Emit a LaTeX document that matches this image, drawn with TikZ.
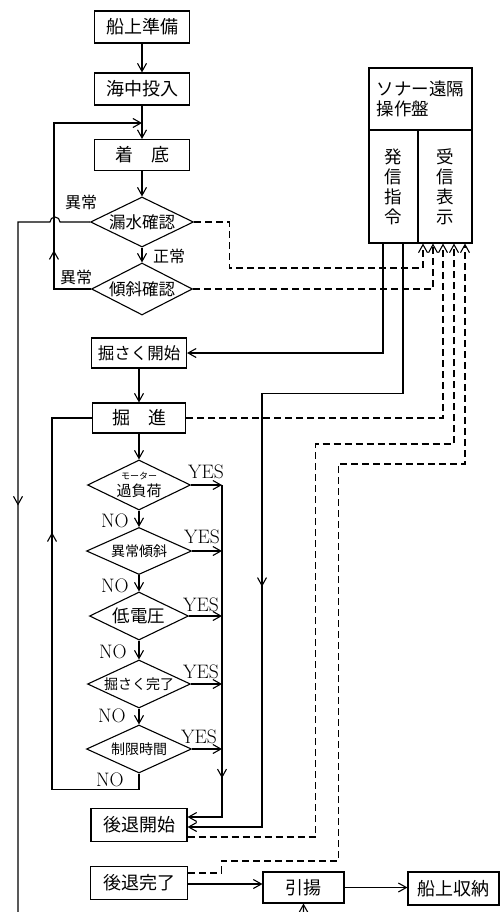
\documentclass[tikz,border=0pt]{standalone}
\usepackage{fontspec}
\newfontfamily\jp{Noto Sans CJK JP}
\usetikzlibrary{arrows.meta,shapes.geometric,decorations.markings}
\begin{document}
\begin{tikzpicture}[x=1pt,y=-1pt,line width=1.1pt,
  >={Straight Barb[length=8pt,width=9pt]},
  box/.style={draw,rectangle,inner sep=0pt,minimum width=95pt,minimum height=32pt,font=\jp\fontsize{18}{20}\selectfont},
  dia/.style={draw,diamond,inner sep=0pt,minimum width=103pt,minimum height=50pt},
  dtext/.style={inner sep=0pt,font=\jp\fontsize{16.5}{18}\selectfont},
  lbl/.style={inner sep=0pt,font=\jp\fontsize{16}{18}\selectfont},
  yn/.style={inner sep=0pt,font=\fontsize{19.5}{20}\selectfont},
  flow/.style={draw,->},
  sig/.style={draw,->,dash pattern=on 7pt off 4pt},
  midarrow/.style={postaction={decorate},decoration={markings,mark=at position #1 with {\arrow{>}}}},
  panel/.style={draw,rectangle,inner sep=0pt,font=\jp\fontsize{17.5}{20}\selectfont}
]
\path[use as bounding box,fill=white] (0,0) rectangle (501,912);

% main column, upper part
\node[box] (n1) at (142,27) {船上準備};
\node[box] (n2) at (142,89) {海中投入};
\node[box,minimum height=31pt] (n3) at (142,155) {着\hspace{1em}底};
\node[dia,label={[dtext]center:漏水確認}] (d1) at (142,222) {};
\node[dia,minimum width=101pt,minimum height=52pt,label={[dtext]center:傾斜確認}] (d2) at (142,289) {};

% main column, lower part
\node[box,minimum height=30pt,font=\jp\fontsize{16.5}{18}\selectfont] (n4) at (139,353) {掘さく開始};
\node[box,minimum width=93pt,minimum height=30pt] (n5) at (139,418) {掘\hspace{1em}進};
\node[dia,label={[dtext,align=center]center:{\fontsize{9}{10}\selectfont モーター}\\[-1pt]{\fontsize{15}{16}\selectfont 過負荷}}] (d3) at (139,485) {};
\node[dia,minimum width=105pt,minimum height=47pt,label={[dtext,font=\jp\fontsize{14}{16}\selectfont]center:異常傾斜}] (d4) at (139,551) {};
\node[dia,minimum width=99pt,minimum height=48pt,label={[dtext,font=\jp\fontsize{17.5}{19}\selectfont]center:低電圧}] (d5) at (139,616) {};
\node[dia,minimum height=48pt,label={[dtext,font=\jp\fontsize{14}{16}\selectfont]center:掘さく完了}] (d6) at (139,684) {};
\node[dia,minimum width=105pt,minimum height=48pt,label={[dtext,font=\jp\fontsize{14}{16}\selectfont]center:制限時間}] (d7) at (139,749) {};
\node[box,minimum width=96pt,minimum height=33pt] (n6) at (139,825) {後退開始};
\node[box,minimum width=97pt,minimum height=33pt] (n7) at (139,883) {後退完了};
\node[box,minimum width=81pt,minimum height=31pt] (n8) at (303.5,887.5) {引揚};
\node[box,minimum width=91pt,minimum height=33pt] (n9) at (453.5,888.5) {船上収納};

% sonar remote control panel
\node[panel,minimum width=103pt,minimum height=62pt,align=left] (sonar) at (420.5,99) {ソナー遠隔\\操作盤};
\node[panel,minimum width=49pt,minimum height=113pt,align=center] (hasshin) at (393.5,186.5) {発\\信\\指\\令};
\node[panel,minimum width=54pt,minimum height=113pt,align=center] (jushin) at (445,186.5) {受\\信\\表\\示};

% labels
\node[lbl] (ab1) at (81,202) {異常};
\node[lbl] (ab2) at (76,277) {異常};
\node[lbl] (ok1) at (169,256) {正常};
\node[yn] (y3) at (206,472) {YES};
\node[yn] (y4) at (202,537) {YES};
\node[yn] (y5) at (201,605) {YES};
\node[yn] (y6) at (201,672) {YES};
\node[yn] (y7) at (199,737) {YES};
\node[yn] (no3) at (115,521) {NO};
\node[yn] (no4) at (115,586) {NO};
\node[yn] (no5) at (113,652) {NO};
\node[yn] (no6) at (112,716) {NO};
\node[yn] (no7) at (110,780) {NO};

% junction points
\coordinate (j1) at (142,123);
\coordinate (bus) at (222,485);

% upper flow
\draw[flow] (n1) -- (n2);
\draw[flow] (n2) -- (n3);
\draw[flow] (n3) -- (d1);
\draw[flow] (d1) -- (d2);
\draw[flow,midarrow=0.26] (d2.west) -- ++(-37,0) |- (j1);
\draw[->,midarrow=0.332] (d1.west) -- (60,222) arc[start angle=0,end angle=180,radius=5pt] -- (18,222) -- (18,925) -| (n8.south);

% lower flow
\draw[flow] (n4) -- (n5);
\draw[flow] (n5) -- (d3);
\draw[flow] (d3) -- (d4);
\draw[flow] (d4) -- (d5);
\draw[flow] (d5) -- (d6);
\draw[flow] (d6) -- (d7);
\draw[midarrow=0.70] (d7.south) -- ++(0,16) -- ++(-87,0) |- (n5.west);

% YES bus
\draw[flow] (d3.east) -- (bus);
\draw[flow] (d4.east) -- (d4.east -| bus);
\draw[flow] (d5.east) -- (d5.east -| bus);
\draw[flow] (d6.east) -- (d6.east -| bus);
\draw[flow] (d7.east) -- (d7.east -| bus);
\draw[flow,midarrow=0.80] (bus) |- ([yshift=8pt]n6.east);

% commands from panel
\draw[flow] (hasshin.south -| 383,0) |- (n4.east);
\draw[flow,midarrow=0.606] (hasshin.south -| 403,0) -- ++(0,150) -- ++(-141,0) |- ([yshift=-2pt]n6.east);

% signals to panel
\draw[sig] (d1.east) -- ++(35,0) -- ++(0,46) -| (jushin.south -| 423,0);
\draw[sig] (d2.east) -| (jushin.south -| 433,0);
\draw[sig] (n5.east) -| (jushin.south -| 443,0);
\draw[sig] ([yshift=-12pt]n6.east) -- ++(128,0) -- ++(0,-393) -| (jushin.south -| 454,0);
\draw[sig] ([yshift=10pt]n7.east) -- ++(33,0) -- ++(0,-12) -- ++(117,0) -- ++(0,-397) -| (jushin.south -| 465,0);

% final flow
\draw[flow] ([yshift=-1pt]n7.east) -- ([yshift=-1pt]n7.east -| n8.west);
\draw[flow] (n8.east) -- (n8.east -| n9.west);
\end{tikzpicture}
\end{document}
